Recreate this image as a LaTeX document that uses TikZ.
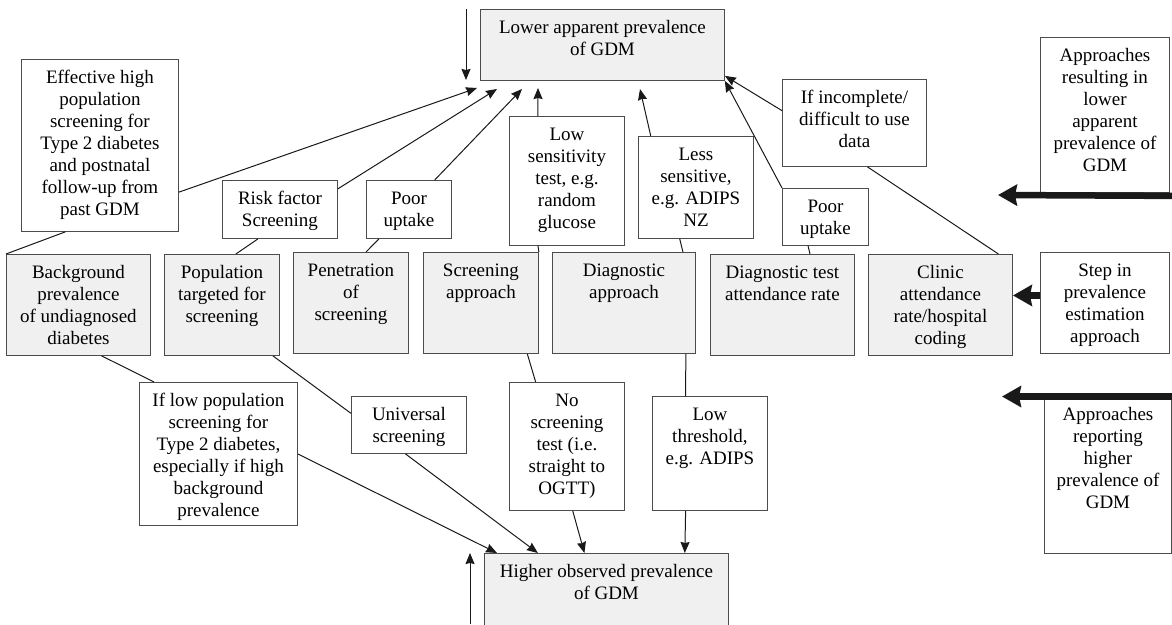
\documentclass[tikz,border=0pt]{standalone}
\usepackage{fontspec}
\setmainfont{Liberation Serif}
\usetikzlibrary{arrows.meta,calc}
\newcommand{\cell}[3]{\parbox[c][#2pt][t]{#1pt}{\centering\rule{0pt}{24pt}#3}}
\begin{document}
\begin{tikzpicture}[x=1pt,y=-1pt,font=\fontsize{19}{22}\selectfont,
	wbox/.style={draw=black!70,line width=0.9pt,fill=white,inner sep=0pt,anchor=north west},
	gbox/.style={wbox,fill=black!6},
	link/.style={draw=black!90,line width=1pt},
	arr/.style={link,-{Stealth[length=11pt,width=9pt,inset=1pt]}},
	bigarr/.style={draw=black!90,line width=6.5pt,-{Stealth[length=19pt,width=21pt,inset=2pt]}}]
		\useasboundingbox(0,0) rectangle (1172,624);
		\clip(0,0) rectangle (1172,624);
		\node[gbox](low) at(480,9){\cell{244}{71}{Lower apparent prevalence\\of GDM}};
		\node[gbox](high) at(484,553){\cell{244}{90}{Higher observed prevalence\\of GDM}};
		\node[wbox](eff) at(21,59){\cell{157}{172}{Effective high\\population\\screening for\\Type 2 diabetes\\and postnatal\\follow-up from\\past GDM}};
		\node[wbox](risk) at(222,180){\cell{115}{58}{Risk factor\\Screening}};
		\node[wbox](pooru1) at(366,180){\cell{85}{58}{Poor\\uptake}};
		\node[wbox](lowsens) at(509,116){\cell{115}{129}{Low\\sensitivity\\test, e.g.\\random\\glucose}};
		\node[wbox](lesssens) at(638,136){\cell{115}{102}{Less\\sensitive,\\e.g. ADIPS\\NZ}};
		\node[wbox](pooru2) at(782,188){\cell{86}{57}{Poor\\uptake}};
		\node[wbox](incompl) at(782,79){\cell{144}{87}{If incomplete/\\difficult to use\\data}};
		\node[wbox](apprlow) at(1040,37){\cell{129}{155}{Approaches\\resulting in\\lower\\apparent\\prevalence of\\GDM}};
		\node[gbox](backg) at(6,254){\cell{144}{101}{Background\\prevalence\\of undiagnosed\\diabetes}};
		\node[gbox](poptarg) at(164,254){\cell{115}{101}{Population\\targeted for\\screening}};
		\node[gbox](penetr) at(293,252){\cell{115}{101}{Penetration\\of\\screening}};
		\node[gbox](scrappr) at(423,252){\cell{115}{101}{Screening\\approach}};
		\node[gbox](diagappr) at(552,252){\cell{143}{101}{Diagnostic\\approach}};
		\node[gbox](diagatt) at(710,254){\cell{144}{101}{Diagnostic test\\attendance rate}};
		\node[gbox](clinic) at(868,254){\cell{144}{101}{Clinic\\attendance\\rate/hospital\\coding}};
		\node[wbox](step) at(1040,252){\cell{129}{101}{Step in\\prevalence\\estimation\\approach}};
		\node[wbox](iflow) at(139,382){\cell{158}{143}{If low population\\screening for\\Type 2 diabetes,\\especially if high\\background\\prevalence}};
		\node[wbox](univ) at(351,396){\cell{115}{57}{Universal\\screening}};
		\node[wbox](noscr) at(509,382){\cell{115}{128}{No\\screening\\test (i.e.\\straight to\\OGTT)}};
		\node[wbox](lowthr) at(652,396){\cell{115}{114}{Low\\threshold,\\e.g. ADIPS}};
		\node[wbox](apprhigh) at(1044,396){\cell{127}{157}{Approaches\\reporting\\higher\\prevalence of\\GDM}};
		\coordinate(t1) at(477,88);
		\coordinate(t2) at(497,89);
		\coordinate(t3) at(522,89);
		\coordinate(t4) at(538,88);
		\coordinate(t5) at(640,89);
		\coordinate(dtop) at(466,9);
		\coordinate(dbot) at(466,80);
		\coordinate(ubot) at(470,624);
		\coordinate(utop) at(470,553);
		\coordinate(c1) at(998,195);
		\coordinate(c3) at(1002,396.5);
		\draw[link]($(eff.south west)!0.28!(eff.south east)$)--(backg.north west);
		\draw[link]($(risk.south west)!0.31!(risk.south east)$)--($(poptarg.north west)!0.62!(poptarg.north east)$);
		\draw[link]($(pooru1.south west)!0.15!(pooru1.south east)$)--($(penetr.north west)!0.63!(penetr.north east)$);
		\draw[link]($(lowsens.south west)!0.25!(lowsens.south east)$)--(scrappr.north east);
		\draw[link]($(lesssens.south west)!0.36!(lesssens.south east)$)--($(diagappr.north west)!0.91!(diagappr.north east)$);
		\draw[link]($(pooru2.south west)!0.3!(pooru2.south east)$)--($(diagatt.north west)!0.69!(diagatt.north east)$);
		\draw[link]($(incompl.south west)!0.59!(incompl.south east)$)--($(clinic.north west)!0.9!(clinic.north east)$);
		\draw[link]($(backg.south west)!0.66!(backg.south east)$)--($(iflow.north west)!0.095!(iflow.north east)$);
		\draw[link]($(poptarg.south west)!0.94!(poptarg.south east)$)--($(univ.north west)!0.3!(univ.south west)$);
		\draw[link]($(scrappr.south west)!0.9!(scrappr.south east)$)--($(noscr.north west)!0.23!(noscr.north east)$);
		\draw[link]($(diagappr.south west)!0.93!(diagappr.south east)$)--($(lowthr.north west)!0.29!(lowthr.north east)$);
		\draw[arr]($(eff.north east)!0.77!(eff.south east)$)--(t1);
		\draw[arr]($(risk.north east)!0.15!(risk.south east)$)--(t2);
		\draw[arr]($(pooru1.north west)!0.8!(pooru1.north east)$)--(t3);
		\draw[arr]($(lowsens.north west)!0.25!(lowsens.north east)$)--(t4);
		\draw[arr]($(lesssens.north west)!0.11!(lesssens.north east)$)--(t5);
		\draw[arr](pooru2.north west)--(low.south east);
		\draw[arr]($(incompl.north west)!0.36!(incompl.south west)$)--($(low.north east)!0.93!(low.south east)$);
		\draw[arr](dtop)--(dbot);
		\draw[arr](iflow.east)--($(high.north west)!0.053!(high.north east)$);
		\draw[arr]($(univ.south west)!0.47!(univ.south east)$)--($(high.north west)!0.22!(high.north east)$);
		\draw[arr]($(noscr.south west)!0.55!(noscr.south east)$)--($(high.north west)!0.41!(high.north east)$);
		\draw[arr]($(lowthr.south west)!0.29!(lowthr.south east)$)--($(high.north west)!0.82!(high.north east)$);
		\draw[arr](ubot)--(utop);
		\draw[bigarr]([xshift=4pt,yshift=-3pt]apprlow.south east)--(c1);
		\draw[bigarr]([yshift=7.5pt]step.west)--([yshift=7.5pt]step.west -| clinic.east);
		\draw[bigarr]([xshift=4pt,yshift=-0.5pt]apprhigh.north east)--(c3);
	\end{tikzpicture}
\end{document}
